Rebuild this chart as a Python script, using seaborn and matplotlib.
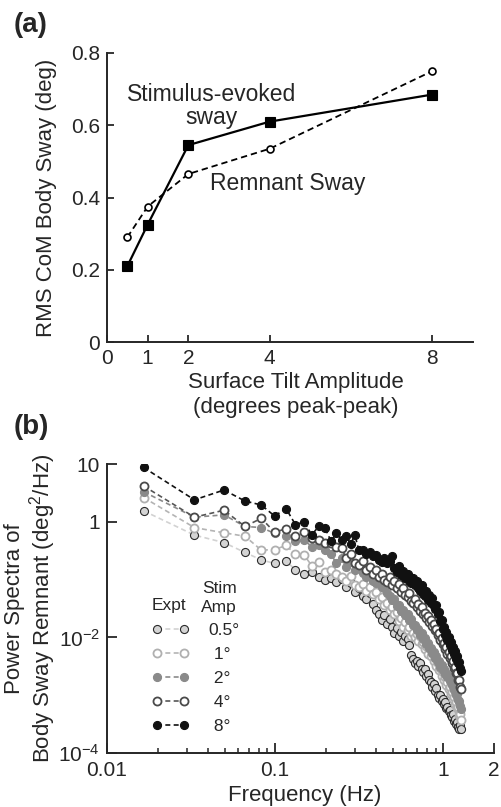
import seaborn as sns
import numpy as np
import pandas as pd
import matplotlib.pyplot as plt
from matplotlib.lines import Line2D
from matplotlib.ticker import FixedLocator, NullFormatter

# ---- panel (a): RMS CoM sway vs tilt amplitude ----
tilt_amp = [0.5, 1, 2, 4, 8]
stim_evoked = [0.21, 0.325, 0.545, 0.61, 0.685]
remnant = [0.29, 0.375, 0.465, 0.535, 0.75]

# ---- panel (b): remnant sway power spectra (log10 of deg^2/Hz) ----
freq = [0.0165, 0.0331, 0.0496, 0.0661, 0.0827, 0.0992, 0.116, 0.132, 0.149, 0.165,
        0.182, 0.198, 0.215, 0.231, 0.248, 0.264, 0.281, 0.298, 0.314, 0.331,
        0.347, 0.364, 0.380, 0.397, 0.413, 0.430, 0.446, 0.463, 0.479, 0.496,
        0.512, 0.529, 0.545, 0.562, 0.579, 0.595, 0.612, 0.628, 0.645, 0.661,
        0.678, 0.694, 0.711, 0.727, 0.744, 0.760, 0.777, 0.793, 0.810, 0.827,
        0.843, 0.860, 0.876, 0.893, 0.909, 0.926, 0.942, 0.959, 0.975, 0.992,
        1.008, 1.025, 1.041, 1.058, 1.074, 1.091, 1.108, 1.124, 1.141, 1.157,
        1.174, 1.190, 1.207, 1.223, 1.240, 1.256, 1.273]

log_psd_05 = [0.19, -0.23, -0.36, -0.53, -0.66, -0.72, -0.68, -0.83, -0.90, -0.86,
              -0.95, -1.01, -0.97, -1.04, -0.99, -1.12, -1.06, -1.21, -1.14, -1.28,
              -1.33, -1.24, -1.42, -1.52, -1.60, -1.70, -1.62, -1.77, -1.69, -1.82,
              -1.92, -1.84, -1.98, -1.90, -2.06, -1.97, -2.03, -2.14, -2.30, -2.37,
              -2.44, -2.40, -2.50, -2.45, -2.55, -2.60, -2.54, -2.66, -2.63, -2.74,
              -2.78, -2.85, -2.80, -2.92, -2.88, -3.00, -3.04, -2.99, -3.10, -3.06,
              -3.15, -3.12, -3.22, -3.20, -3.28, -3.25, -3.35, -3.38, -3.33, -3.45,
              -3.42, -3.50, -3.47, -3.55, -3.58, -3.52, -3.58]
log_psd_1 = [0.42, -0.10, -0.19, -0.25, -0.49, -0.48, -0.41, -0.56, -0.58, -0.76,
             -0.70, -0.86, -0.84, -0.91, -0.96, -1.02, -0.93, -1.10, -1.13, -1.07,
             -1.20, -1.13, -1.25, -1.22, -1.34, -1.30, -1.44, -1.40, -1.52, -1.48,
             -1.60, -1.56, -1.71, -1.66, -1.82, -1.74, -1.88, -1.82, -1.97, -1.92,
             -2.00, -1.94, -2.06, -1.98, -2.12, -2.08, -2.20, -2.15, -2.28, -2.18,
             -2.32, -2.27, -2.41, -2.36, -2.50, -2.45, -2.57, -2.53, -2.66, -2.60,
             -2.73, -2.68, -2.82, -2.77, -2.90, -2.85, -2.98, -2.95, -3.07, -3.03,
             -3.15, -3.11, -3.23, -3.20, -3.34, -3.32, -3.43]
log_psd_2 = [0.52, 0.08, 0.12, -0.08, -0.10, -0.20, -0.24, -0.34, -0.32, -0.43,
             -0.40, -0.49, -0.56, -0.72, -0.63, -0.78, -0.70, -0.84, -0.76, -0.88,
             -0.95, -0.87, -1.02, -1.06, -0.98, -1.12, -1.15, -1.24, -1.28, -1.36,
             -1.34, -1.46, -1.44, -1.55, -1.52, -1.62, -1.60, -1.70, -1.69, -1.79,
             -1.78, -1.87, -1.86, -1.95, -1.93, -2.03, -2.01, -2.11, -2.10, -2.19,
             -2.18, -2.27, -2.25, -2.35, -2.33, -2.43, -2.41, -2.51, -2.48, -2.57,
             -2.55, -2.63, -2.61, -2.69, -2.67, -2.75, -2.73, -2.83, -2.82, -2.91,
             -2.90, -2.99, -2.98, -3.08, -3.10, -3.19, -3.24]
log_psd_4 = [0.62, 0.08, 0.20, -0.08, 0.06, -0.18, -0.12, -0.24, -0.18, -0.28,
             -0.31, -0.36, -0.37, -0.44, -0.46, -0.62, -0.56, -0.72, -0.75, -0.68,
             -0.84, -0.78, -0.90, -0.84, -0.96, -0.90, -1.00, -1.05, -0.96, -1.09,
             -1.02, -1.15, -1.08, -1.21, -1.14, -1.27, -1.30, -1.24, -1.37, -1.40,
             -1.33, -1.47, -1.43, -1.55, -1.48, -1.60, -1.57, -1.66, -1.63, -1.74,
             -1.70, -1.80, -1.77, -1.88, -1.85, -1.96, -1.93, -2.04, -2.01, -2.12,
             -2.09, -2.20, -2.17, -2.28, -2.25, -2.36, -2.33, -2.44, -2.41, -2.53,
             -2.51, -2.62, -2.61, -2.73, -2.74, -2.85, -2.90]
log_psd_8 = [0.94, 0.38, 0.55, 0.36, 0.29, 0.10, 0.23, -0.05, 0.00, -0.23,
             -0.07, -0.11, -0.34, -0.20, -0.31, -0.25, -0.38, -0.23, -0.49, -0.49,
             -0.55, -0.52, -0.60, -0.58, -0.66, -0.69, -0.62, -0.72, -0.68, -0.60,
             -0.80, -0.86, -0.76, -0.92, -0.85, -0.98, -0.90, -1.03, -1.06, -0.97,
             -1.10, -1.03, -1.15, -1.19, -1.10, -1.25, -1.28, -1.20, -1.35, -1.26,
             -1.40, -1.32, -1.46, -1.50, -1.44, -1.60, -1.56, -1.72, -1.70, -1.86,
             -1.82, -1.95, -1.90, -2.05, -2.00, -2.13, -2.08, -2.21, -2.16, -2.29,
             -2.24, -2.37, -2.32, -2.45, -2.42, -2.53, -2.58]

stim_labels = ['0.5°', ' 1°', ' 2°', ' 4°', ' 8°']
series = [log_psd_05, log_psd_1, log_psd_2, log_psd_4, log_psd_8]
# (line colour, marker face, marker edge, edge width)
styles = [('#d2d2d2', '#d4d4d4', '#2a2a2a', 0.8),
          ('#b4b4b4', 'white', '#b0b0b0', 1.3),
          ('#8a8a8a', '#8a8a8a', '#8a8a8a', 0.8),
          ('#555555', 'white', '#4a4a4a', 1.3),
          ('#111111', '#111111', '#111111', 0.8)]

sns.set_style('ticks')
plt.rcParams['font.family'] = ['Liberation Sans', 'DejaVu Sans']
plt.rcParams['mathtext.default'] = 'regular'

fig = plt.figure(figsize=(5.01, 8.07), dpi=100)
ax1 = fig.add_axes([107 / 501, (807 - 342) / 807, 366 / 501, 289 / 807])
ax2 = fig.add_axes([107 / 501, (807 - 753) / 807, 387 / 501, 289 / 807])

# ---------------- panel (a) ----------------
df_a = pd.DataFrame({'amp': tilt_amp, 'stim': stim_evoked, 'rem': remnant})
sns.lineplot(data=df_a, x='amp', y='stim', ax=ax1, color='black', lw=1.6,
             marker='s', markersize=7, markerfacecolor='black',
             markeredgecolor='black', markeredgewidth=0.8, legend=False)
sns.lineplot(data=df_a, x='amp', y='rem', ax=ax1, color='black', lw=1.3,
             linestyle=(0, (3.5, 2.2)), marker='o', markersize=5,
             markerfacecolor='white', markeredgecolor='black',
             markeredgewidth=1.2, legend=False)

ax1.set_xlim(0, 9)
ax1.set_ylim(0, 0.8)
ax1.set_xticks([0, 1, 2, 4, 8])
ax1.set_yticks([0, 0.2, 0.4, 0.6, 0.8])
ax1.set_yticklabels(['0', '0.2', '0.4', '0.6', '0.8'])
ax1.tick_params(direction='in', length=5, width=1.3, labelsize=15, pad=5)
ax1.set_xlabel('Surface Tilt Amplitude\n(degrees peak-peak)', fontsize=16,
               linespacing=1.2)
ax1.set_ylabel('RMS CoM Body Sway (deg)', fontsize=16)
ax1.xaxis.set_label_coords(0.515, -0.105)
ax1.yaxis.set_label_coords(-0.137, 0.5)
for s in ['top', 'right']:
    ax1.spines[s].set_visible(False)
for s in ['left', 'bottom']:
    ax1.spines[s].set_linewidth(1.4)

ax1.text(2.58, 0.653, 'Stimulus-evoked\nsway', fontsize=16.5, ha='center',
         va='center', linespacing=1.0)
ax1.text(4.44, 0.44, 'Remnant Sway', fontsize=16.5, ha='center', va='center')
fig.text(0.027, 0.969, '(a)', fontsize=20, fontweight='bold', va='center')

# ---------------- panel (b) ----------------
handles = []
for lab, vals, (lc, fc, ec, mew) in zip(stim_labels, series, styles):
    psd = 10.0 ** np.array(vals)
    sns.lineplot(x=freq, y=psd, ax=ax2, sort=False, estimator=None,
                 color=lc, lw=1.2, linestyle=(0, (3, 2)), marker='o',
                 markersize=5.8, markerfacecolor=fc, markeredgecolor=ec,
                 markeredgewidth=mew, legend=False)
    handles.append(Line2D([], [], color=lc, lw=1.2, linestyle=(0, (3, 2)),
                          marker='o', markersize=5.8, markerfacecolor=fc,
                          markeredgecolor=ec, markeredgewidth=mew, label=lab))

ax2.set_xscale('log')
ax2.set_yscale('log')
ax2.set_xlim(0.01, 2)
ax2.set_ylim(1e-4, 10)
ax2.xaxis.set_major_locator(FixedLocator([0.01, 0.1, 1, 2]))
ax2.set_xticklabels(['0.01', '0.1', '1', '2'])
minor = [m * d for d in (0.01, 0.1) for m in range(2, 10)]
ax2.xaxis.set_minor_locator(FixedLocator(minor))
ax2.xaxis.set_minor_formatter(NullFormatter())
ax2.yaxis.set_major_locator(FixedLocator([1e-4, 1e-2, 1, 10]))
ax2.set_yticklabels([r'$10^{-4}$', r'$10^{-2}$', '1', '10'])
ax2.yaxis.set_minor_locator(FixedLocator([]))
ax2.tick_params(which='major', direction='in', length=7, width=1.3,
                labelsize=15, pad=6)
ax2.tick_params(axis='y', which='major', pad=5)
ax2.tick_params(which='minor', direction='in', length=3.5, width=1.1)
ax2.set_xlabel('Frequency (Hz)', fontsize=16)
ax2.set_ylabel('Power Spectra of\nBody Sway Remnant (deg$^2$/Hz)', fontsize=16,
               linespacing=1.1)
ax2.xaxis.set_label_coords(0.51, -0.11)
ax2.yaxis.set_label_coords(-0.127, 0.5)
for s in ['top', 'right']:
    ax2.spines[s].set_visible(False)
for s in ['left', 'bottom']:
    ax2.spines[s].set_linewidth(1.4)

leg = ax2.legend(handles=handles, loc='upper left',
                 bbox_to_anchor=(0.115, 0.45), frameon=False, fontsize=12.5,
                 numpoints=2, handlelength=2.2, handletextpad=1.1,
                 labelspacing=0.51, borderpad=0, borderaxespad=0)
ax2.text(0.159, 0.512, 'Expt', transform=ax2.transAxes, fontsize=12.5,
         ha='center', va='center')
ax2.text(0.29, 0.536, 'Stim\nAmp', transform=ax2.transAxes, fontsize=12.5,
         ha='center', va='center', linespacing=1.3)
fig.text(0.027, 0.471, '(b)', fontsize=20, fontweight='bold', va='center')

fig.savefig('out.png', dpi=100)
